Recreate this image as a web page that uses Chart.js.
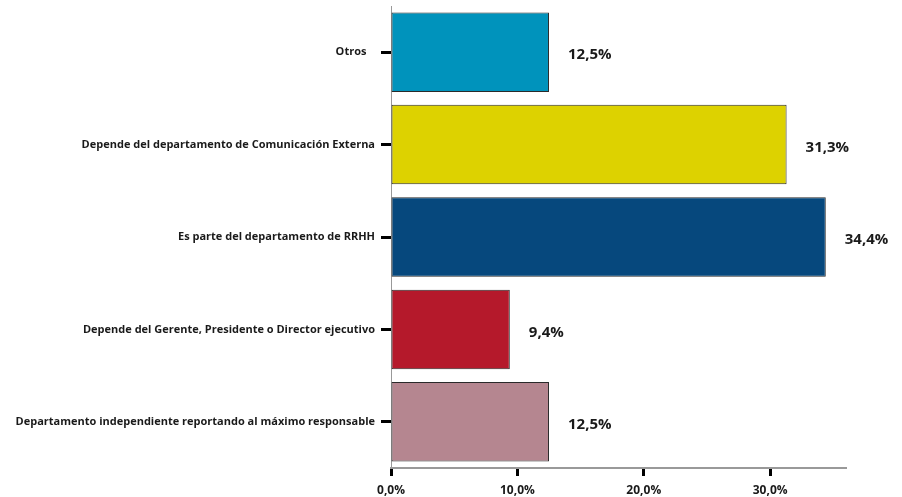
<!DOCTYPE html>
<html>
<head>
<meta charset="utf-8">
<script src="https://cdn.jsdelivr.net/npm/chart.js@4"></script>
<style>
  html, body { margin: 0; padding: 0; background: #fff; }
  #chart { display: block; }
</style>
</head>
<body>
<canvas id="chart" width="902" height="497"></canvas>
<script>
const categories = [
  'Otros   ',
  'Depende del departamento de Comunicación Externa',
  'Es parte del departamento de RRHH',
  'Depende del Gerente, Presidente o Director ejecutivo',
  'Departamento independiente reportando al máximo responsable'
];
const values = [12.5, 31.3, 34.4, 9.4, 12.5];
const barColors = ['#0093bc', '#ddd200', '#06487d', '#b5192b', '#b58690'];
const xTicks = [0, 10, 20, 30];

const fmt = (v) => v.toFixed(1).replace('.', ',') + '%';

// writes each bar's value just past its end
const valueLabels = {
  id: 'valueLabels',
  afterDatasetsDraw(chart) {
    const ctx = chart.ctx;
    const meta = chart.getDatasetMeta(0);
    ctx.save();
    ctx.font = 'bold 15px "Open Sans"';
    ctx.fillStyle = '#1a1a1a';
    ctx.textBaseline = 'middle';
    ctx.textAlign = 'left';
    meta.data.forEach((bar, i) => {
      ctx.fillText(fmt(values[i]), bar.x + 19, bar.y + 3);
    });
    ctx.restore();
  }
};

new Chart(document.getElementById('chart').getContext('2d'), {
  type: 'bar',
  data: {
    labels: categories,
    datasets: [{
      data: values,
      backgroundColor: barColors,
      borderColor: '#2a2a2a',
      borderWidth: 1,
      borderSkipped: false,
      categoryPercentage: 1,
      barPercentage: 0.86
    }]
  },
  options: {
    indexAxis: 'y',
    responsive: false,
    animation: false,
    layout: { padding: { top: 6, right: 56, bottom: 0, left: 0 } },
    plugins: {
      legend: { display: false },
      tooltip: { enabled: false }
    },
    scales: {
      x: {
        min: 0,
        max: 36,
        afterBuildTicks: (scale) => { scale.ticks = xTicks.map(v => ({ value: v })); },
        afterFit: (scale) => { scale.height = 29; },
        ticks: {
          callback: (v) => fmt(v),
          color: '#1a1a1a',
          font: { family: 'Open Sans', size: 12, weight: 'bold' },
          padding: 7,
          maxRotation: 0
        },
        grid: {
          drawOnChartArea: false,
          drawTicks: true,
          tickLength: 8,
          tickWidth: 3,
          tickColor: '#000'
        },
        border: { color: '#999', width: 2 }
      },
      y: {
        afterFit: (scale) => {
          scale.width = 391;
          scale.paddingTop = 0;
          scale.paddingBottom = 0;
        },
        ticks: {
          color: '#1a1a1a',
          font: { family: 'Open Sans', size: 11, weight: 'bold' },
          padding: 6
        },
        grid: {
          offset: false,
          drawOnChartArea: false,
          drawTicks: true,
          tickLength: 10,
          tickWidth: 3,
          tickColor: '#000'
        },
        border: { color: '#999', width: 1 }
      }
    }
  },
  plugins: [valueLabels]
});
</script>
</body>
</html>
